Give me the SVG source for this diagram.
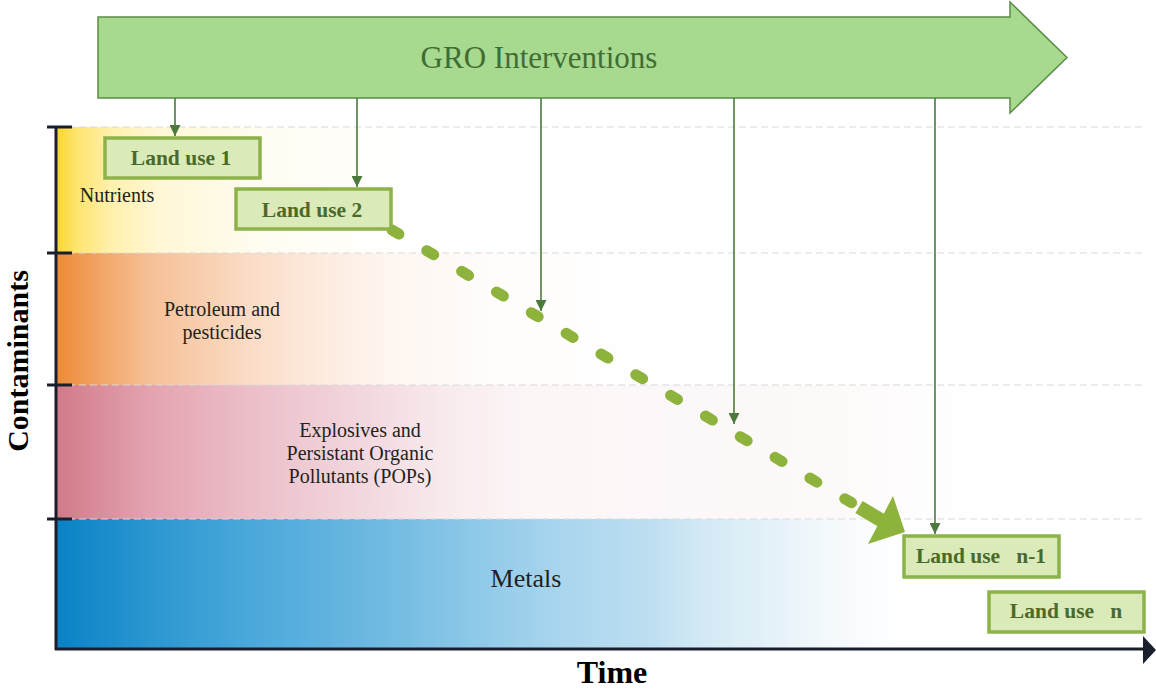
<svg xmlns="http://www.w3.org/2000/svg" width="1156" height="693" viewBox="0 0 1156 693">
<style>
.lbl{font-family:"Liberation Serif","Times New Roman",serif;fill:#231f20;font-size:20px;text-anchor:middle}
.box rect{fill:#dbeab9;stroke:#8db24a;stroke-width:3.5}
.box text{font-family:"Liberation Serif","Times New Roman",serif;font-weight:bold;font-size:21.5px;fill:#4a6a2c;text-anchor:middle}
.vline{stroke:#4b7a3c;stroke-width:1.6;fill:none;marker-end:url(#ah)}
.grid{stroke:#d9d9d9;stroke-width:1.2;stroke-dasharray:7 4}
.axis{stroke:#1b1f2b;stroke-width:3;fill:none}
</style>
<defs>
<marker id="ah" viewBox="0 0 10 10" refX="10" refY="5" markerWidth="11" markerHeight="11" markerUnits="userSpaceOnUse" orient="auto">
<path d="M0,0 L10,5 L0,10 z" fill="#4b7a3c"/>
</marker>
<linearGradient id="gN" gradientUnits="userSpaceOnUse" x1="57" y1="0" x2="1145" y2="0">
<stop offset="0" stop-color="#fbd630"/><stop offset="0.017" stop-color="#fde46a"/><stop offset="0.049" stop-color="#fff0ac"/><stop offset="0.095" stop-color="#fff7d6"/><stop offset="0.187" stop-color="#fffcf1"/><stop offset="0.32" stop-color="#ffffff"/>
</linearGradient>
<linearGradient id="gP" gradientUnits="userSpaceOnUse" x1="57" y1="0" x2="1145" y2="0">
<stop offset="0" stop-color="#ee8a36"/><stop offset="0.04" stop-color="#f2a566"/><stop offset="0.085" stop-color="#f6c096"/><stop offset="0.177" stop-color="#fadcc6"/><stop offset="0.25" stop-color="#fdece0"/><stop offset="0.315" stop-color="#fef7f2"/><stop offset="0.42" stop-color="#fffdfc"/><stop offset="0.6" stop-color="#ffffff"/>
</linearGradient>
<linearGradient id="gE" gradientUnits="userSpaceOnUse" x1="57" y1="0" x2="1145" y2="0">
<stop offset="0" stop-color="#d27a89"/><stop offset="0.085" stop-color="#e3a3b0"/><stop offset="0.177" stop-color="#ebbec8"/><stop offset="0.27" stop-color="#f2d5dc"/><stop offset="0.36" stop-color="#f8ebee"/><stop offset="0.435" stop-color="#fcf6f7"/><stop offset="0.7" stop-color="#fdf9f9"/><stop offset="0.85" stop-color="#ffffff"/>
</linearGradient>
<linearGradient id="gM" gradientUnits="userSpaceOnUse" x1="57" y1="0" x2="1145" y2="0">
<stop offset="0" stop-color="#0a82c6"/><stop offset="0.085" stop-color="#2a96d0"/><stop offset="0.177" stop-color="#4aa8da"/><stop offset="0.315" stop-color="#75bde3"/><stop offset="0.453" stop-color="#a6d4ed"/><stop offset="0.55" stop-color="#bfdff1"/><stop offset="0.59" stop-color="#d2e9f5"/><stop offset="0.683" stop-color="#ecf5fa"/><stop offset="0.729" stop-color="#f8fbfd"/><stop offset="0.78" stop-color="#ffffff"/>
</linearGradient>
</defs>

<g id="bands">
<rect x="57" y="127" width="1088" height="126" fill="url(#gN)"/>
<rect x="57" y="253" width="1088" height="132" fill="url(#gP)"/>
<rect x="57" y="385" width="1088" height="134" fill="url(#gE)"/>
<rect x="57" y="519" width="1088" height="130" fill="url(#gM)"/>
<line class="grid" x1="57" y1="127" x2="1142" y2="127"/>
<line class="grid" x1="57" y1="253" x2="1142" y2="253"/>
<line class="grid" x1="57" y1="385" x2="1142" y2="385"/>
<line class="grid" x1="57" y1="519" x2="1142" y2="519"/>
</g>

<g id="band-labels">
<text class="lbl" x="117" y="202">Nutrients</text>
<text class="lbl" x="222" y="316">Petroleum and</text>
<text class="lbl" x="222" y="339">pesticides</text>
<text class="lbl" x="360" y="437">Explosives and</text>
<text class="lbl" x="360" y="460">Persistant Organic</text>
<text class="lbl" x="360" y="483">Pollutants (POPs)</text>
<text class="lbl" x="526" y="587" style="font-size:26px">Metals</text>
</g>

<g id="axes">
<line class="axis" x1="56" y1="126" x2="56" y2="650"/>
<line class="axis" x1="55" y1="649" x2="1146" y2="649"/>
<path d="M1143,636 L1156,650 L1143,664 z" fill="#1b1f2b"/>
<line class="axis" x1="47" y1="127" x2="72" y2="127"/>
<line class="axis" x1="47" y1="253" x2="72" y2="253"/>
<line class="axis" x1="47" y1="385" x2="72" y2="385"/>
<line class="axis" x1="47" y1="519" x2="72" y2="519"/>
<text x="17" y="361" transform="rotate(-90 17 361)" dominant-baseline="central" style="font-family:'Liberation Serif','Times New Roman',serif;font-weight:bold;font-size:30px;fill:#000;text-anchor:middle">Contaminants</text>
<text x="612" y="683" style="font-family:'Liberation Serif','Times New Roman',serif;font-weight:bold;font-size:32px;fill:#000;text-anchor:middle">Time</text>
</g>

<g id="gro-interventions">
<path d="M98,17 L1010,17 L1010,2 L1067,57.5 L1010,113 L1010,98 L98,98 z" fill="#a7d98f" stroke="#5b8c46" stroke-width="1.5" stroke-linejoin="miter"/>
<text x="539" y="68" style="font-family:'Liberation Serif','Times New Roman',serif;font-size:31px;fill:#3f6d33;text-anchor:middle">GRO Interventions</text>
</g>

<g id="connectors">
<line class="vline" x1="175" y1="98" x2="175" y2="136"/>
<line class="vline" x1="357" y1="98" x2="357" y2="187"/>
<line class="vline" x1="541" y1="98" x2="541" y2="311"/>
<line class="vline" x1="734" y1="98" x2="734" y2="424"/>
<line class="vline" x1="935" y1="98" x2="935" y2="534"/>
<line x1="392" y1="230" x2="852" y2="503" stroke="#8db33d" stroke-width="11" stroke-linecap="round" stroke-dasharray="8 32.5"/>
<line x1="859" y1="507" x2="884" y2="522" stroke="#8db33d" stroke-width="14"/>
<path d="M893,496 L905,532 L868,544 z" fill="#8db33d"/>
</g>

<g id="land-use-1" class="box">
<rect x="105" y="138" width="155" height="40"/>
<text x="181" y="165">Land use 1</text>
</g>
<g id="land-use-2" class="box">
<rect x="236" y="189" width="155" height="40"/>
<text x="312" y="217">Land use 2</text>
</g>
<g id="land-use-n-1" class="box">
<rect x="904" y="536" width="155" height="41"/>
<text x="981" y="563" xml:space="preserve">Land use   n-1</text>
</g>
<g id="land-use-n" class="box">
<rect x="989" y="592" width="155" height="40"/>
<text x="1066" y="618" xml:space="preserve">Land use   n</text>
</g>
</svg>
